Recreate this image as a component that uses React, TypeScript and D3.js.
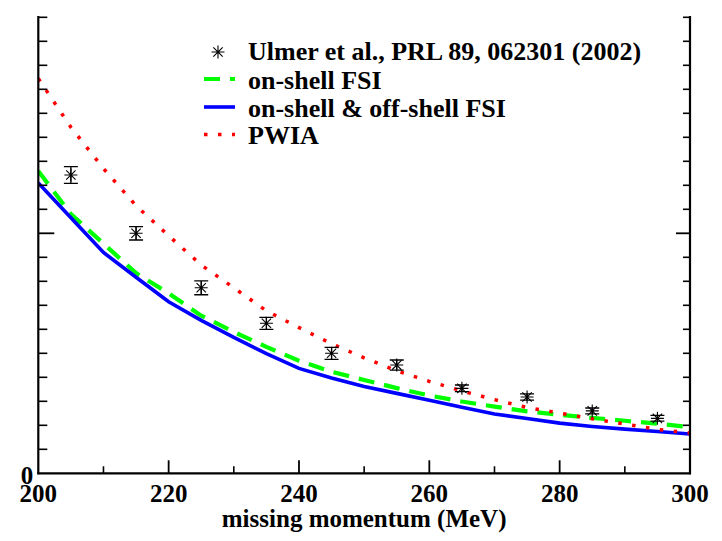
import React from 'react';
import * as d3 from 'd3';

const momentum = [200, 205, 210, 215, 220, 225, 230, 235, 240, 245, 250, 255, 260, 265, 270, 275, 280, 285, 290, 295, 300];
const pwia = [1.645, 1.442, 1.27, 1.115, 0.99, 0.868, 0.773, 0.677, 0.607, 0.54, 0.481, 0.427, 0.383, 0.343, 0.307, 0.274, 0.251, 0.227, 0.205, 0.183, 0.168];
const onShellFSI = [1.26, 1.08, 0.957, 0.834, 0.75, 0.657, 0.589, 0.527, 0.469, 0.423, 0.389, 0.355, 0.324, 0.299, 0.278, 0.258, 0.244, 0.231, 0.219, 0.207, 0.192];
const fullFSI = [1.21, 1.065, 0.92, 0.817, 0.715, 0.637, 0.566, 0.499, 0.437, 0.397, 0.362, 0.333, 0.304, 0.275, 0.247, 0.228, 0.209, 0.195, 0.184, 0.174, 0.164];

const dataMomentum = [205, 215, 225, 235, 245, 255, 265, 275, 285, 295];
const dataValue = [1.243, 1.0, 0.773, 0.625, 0.5, 0.451, 0.354, 0.318, 0.26, 0.229];
const dataError = [0.035, 0.028, 0.029, 0.025, 0.025, 0.021, 0.014, 0.013, 0.012, 0.012];

const xMajorTicks = [200, 220, 240, 260, 280, 300];
const xMinorTicks = [210, 230, 250, 270, 290];
const yMajorTicks = [0, 1];
const yMinorTicks = [0.1, 0.2, 0.3, 0.4, 0.5, 0.6, 0.7, 0.8, 0.9, 1.1, 1.2, 1.3, 1.4, 1.5, 1.6, 1.7, 1.8, 1.9];
const yTickLabels = ['0'];

const legendLabels = [
  'Ulmer et al., PRL 89, 062301 (2002)',
  'on-shell FSI',
  'on-shell & off-shell FSI',
  'PWIA',
];
const xAxisTitle = 'missing momentum (MeV)';

const FONT = '"Liberation Serif", "Times New Roman", Times, serif';

function starPath(cx: number, cy: number, r: number) {
  const d = r * 0.72;
  return `M${cx - r},${cy}L${cx + r},${cy}M${cx},${cy - r}L${cx},${cy + r}` +
    `M${cx - d},${cy - d}L${cx + d},${cy + d}M${cx - d},${cy + d}L${cx + d},${cy - d}`;
}

export default function App() {
  const W = 722, H = 541;
  const L = 38.3, R = 690, T = 16, B = 473.3;
  const x = d3.scaleLinear().domain([200, 300]).range([L, R]);
  const y = d3.scaleLinear().domain([0, 1]).range([B, B - 240]);

  const mk = (vals: number[]) =>
    d3.line<number>().x((_, i) => x(momentum[i])).y(d => y(d)).curve(d3.curveLinear)(vals) || '';

  const green = '#00ff00';
  const blue = '#0000ff';
  const red = '#ff0000';

  const legY = [59.5, 88.5, 116.5, 144];

  return (
    <svg width={W} height={H} style={{ position: 'absolute', left: 0, top: 0, background: '#fff' }}
      fontFamily={FONT} fontWeight="bold">
      <rect x={0} y={0} width={W} height={H} fill="#fff" />
      <defs>
        <clipPath id="plot">
          <rect x={L} y={T} width={R - L} height={B - T} />
        </clipPath>
      </defs>

      <g clipPath="url(#plot)">
        <path d={mk(onShellFSI)} fill="none" stroke={green} strokeWidth={4.2} strokeDasharray="16 10" />
        <path d={mk(fullFSI)} fill="none" stroke={blue} strokeWidth={3.6} />
        <path d={mk(pwia)} fill="none" stroke={red} strokeWidth={3.5} strokeDasharray="3.5 10.5" />
      </g>

      {/* data points */}
      <g stroke="#000" strokeWidth={1.1} fill="none">
        {dataMomentum.map((m, i) => {
          const cx = x(m), cy = y(dataValue[i]);
          const y1 = y(dataValue[i] + dataError[i]), y2 = y(dataValue[i] - dataError[i]);
          return (
            <g key={m}>
              <path d={`M${cx},${y1}L${cx},${y2}M${cx - 7},${y1}L${cx + 7},${y1}M${cx - 7},${y2}L${cx + 7},${y2}`} strokeWidth={1.3} />
              <path d={starPath(cx, cy, 6.5)} />
            </g>
          );
        })}
      </g>

      {/* axes */}
      <g stroke="#000">
        <line x1={L} y1={T} x2={L} y2={B + 1} strokeWidth={2.2} />
        <line x1={R} y1={T} x2={R} y2={B + 1} strokeWidth={2.2} />
        <line x1={L - 1} y1={B} x2={R + 1} y2={B} strokeWidth={2.2} />
        {yMinorTicks.map(t => (
          <g key={'ym' + t}>
            <line x1={L} x2={L + 9} y1={y(t)} y2={y(t)} strokeWidth={1.6} />
            <line x1={R} x2={R - 7} y1={y(t)} y2={y(t)} strokeWidth={1.6} />
          </g>
        ))}
        {yMajorTicks.filter(t => t > 0).map(t => (
          <g key={'yM' + t}>
            <line x1={L} x2={L + 16} y1={y(t)} y2={y(t)} strokeWidth={1.8} />
            <line x1={R} x2={R - 14} y1={y(t)} y2={y(t)} strokeWidth={1.8} />
          </g>
        ))}
        {xMinorTicks.map(t => (
          <line key={'xm' + t} x1={x(t)} x2={x(t)} y1={B} y2={B - 7} strokeWidth={1.6} />
        ))}
        {xMajorTicks.filter(t => t > 200 && t < 300).map(t => (
          <line key={'xM' + t} x1={x(t)} x2={x(t)} y1={B} y2={B - 13} strokeWidth={1.8} />
        ))}
      </g>

      {/* tick labels */}
      <g fontSize={25} fill="#000">
        {yTickLabels.map((lab, i) => (
          <text key={'yl' + i} x={L - 5} y={y(yMajorTicks[i]) + 11} textAnchor="end">{lab}</text>
        ))}
        {xMajorTicks.map(t => (
          <text key={'xl' + t} x={x(t)} y={502} textAnchor="middle">{t}</text>
        ))}
        <text x={(L + R) / 2} y={527} textAnchor="middle">{xAxisTitle}</text>
      </g>

      {/* legend */}
      <g fontSize={26} fill="#000">
        <path d={starPath(218, legY[0] - 7.5, 6.5)} stroke="#000" strokeWidth={1.1} fill="none" />
        <line x1={204} x2={235} y1={legY[1] - 9.5} y2={legY[1] - 9.5} stroke={green} strokeWidth={4.2} strokeDasharray="16 10" />
        <line x1={204} x2={235} y1={legY[2] - 9.5} y2={legY[2] - 9.5} stroke={blue} strokeWidth={3.6} />
        <line x1={204} x2={235} y1={legY[3] - 9.5} y2={legY[3] - 9.5} stroke={red} strokeWidth={3.5} strokeDasharray="3.5 10.5" />
        {legendLabels.map((lab, i) => (
          <text key={lab} x={248} y={legY[i]}>{lab}</text>
        ))}
      </g>
    </svg>
  );
}
